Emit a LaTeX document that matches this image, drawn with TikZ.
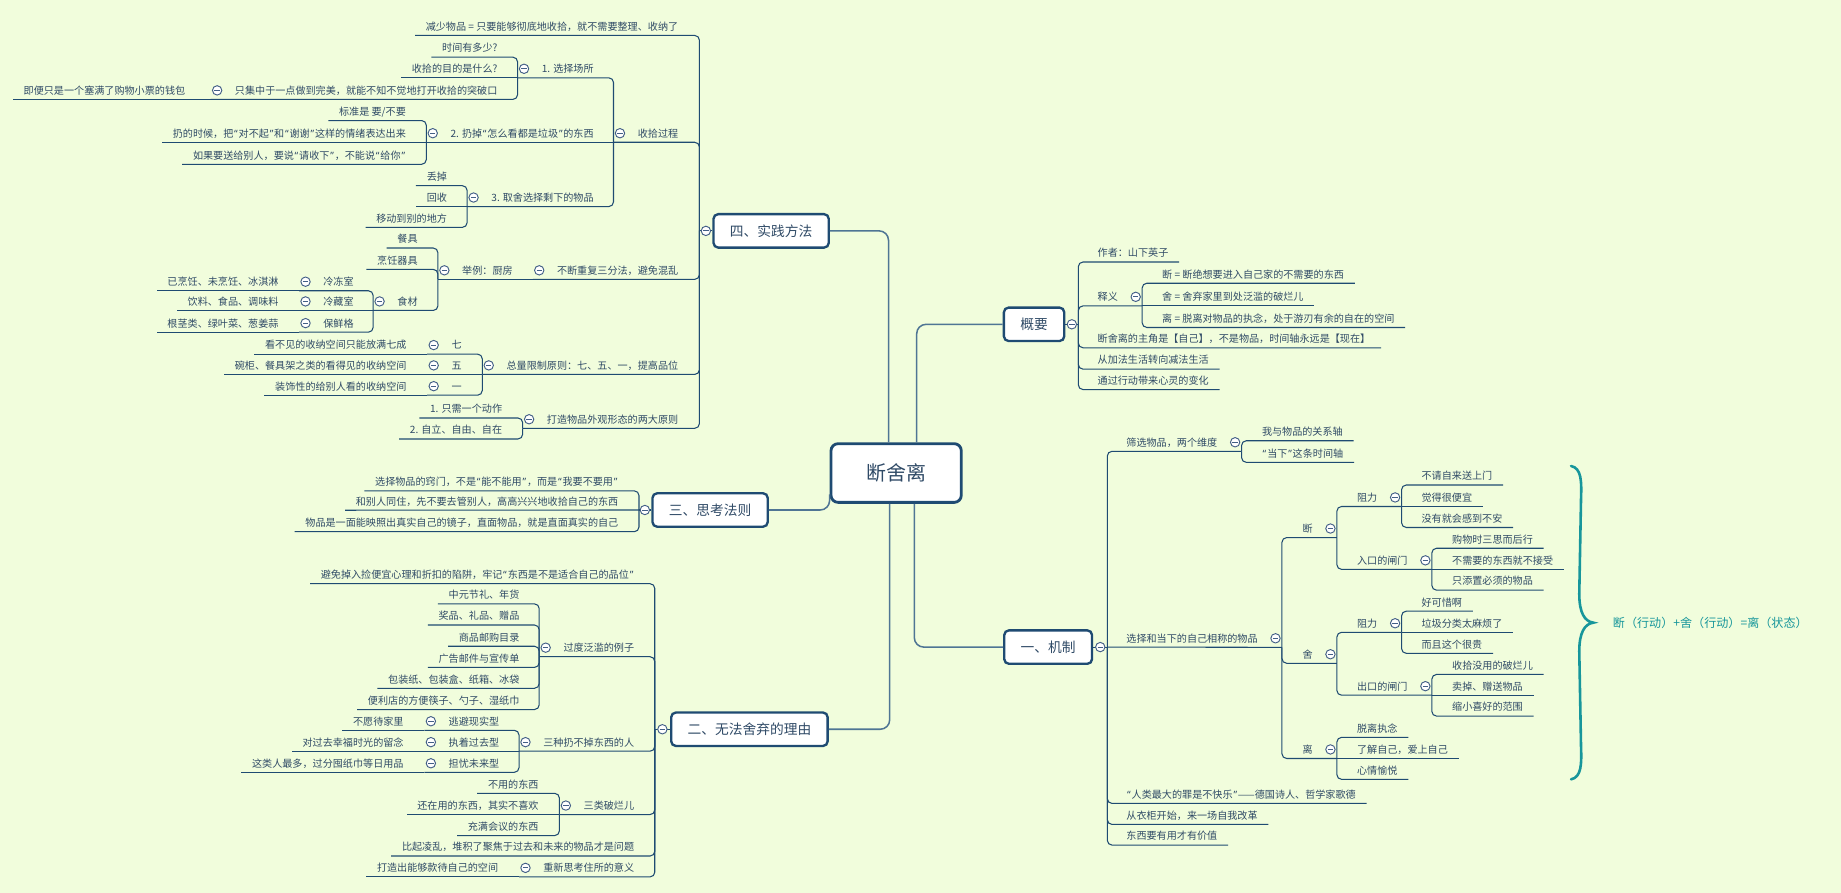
\documentclass[tikz,border=0pt]{standalone}
\usepackage{fontspec}
\setmainfont{Noto Sans CJK SC}
\newfontfamily\latf{Noto Sans}
\newcommand\oq{\kern0.6pt{\latf “}\kern0.8pt}
\newcommand\cq{\kern0.8pt{\latf ”}\kern0.6pt}
\definecolor{bgc}{HTML}{F1FDDC}
\definecolor{txtc}{HTML}{2F4A66}
\definecolor{linec}{HTML}{1F4B72}
\definecolor{rootc}{HTML}{4F7594}
\definecolor{foldc}{HTML}{435F86}
\definecolor{sumc}{HTML}{17969B}
\tikzset{
	topic/.style={font=\fontsize{8.6}{10}\selectfont, text=txtc, inner xsep=9pt, inner ysep=0pt, text height=10.8pt, text depth=4.2pt},
	lt/.style={topic, anchor=east},
	rt/.style={topic, anchor=west},
	branch/.style={draw=linec, line width=2pt, rounded corners=4pt, fill=white, text=txtc, font=\fontsize{11.7}{14}\selectfont, inner xsep=14pt, inner ysep=0pt, text height=9.5pt, text depth=0.6pt, minimum height=28.5pt},
	central/.style={branch, line width=2.4pt, rounded corners=6pt, font=\fontsize{17}{20}\selectfont, text height=13.5pt, text depth=0.6pt, minimum width=111pt, minimum height=50pt},
	link/.style={draw=linec, line width=0.9pt, rounded corners=4pt},
	rootlink/.style={draw=rootc, line width=1.3pt, rounded corners=8pt},
	fold/.style={circle, draw=foldc, fill=white, line width=0.8pt, inner sep=0pt, minimum size=8pt,
			path picture={\draw[foldc, line width=0.8pt] ([xshift=-2.3pt]path picture bounding box.center) -- ([xshift=2.3pt]path picture bounding box.center);}},
	summary/.style={font=\fontsize{10.3}{12}\selectfont, text=sumc, inner sep=0pt, text height=7.6pt, text depth=0.8pt, anchor=west}
}
\begin{document}
\begin{tikzpicture}[x=1pt, y=-1pt]
	\fill[bgc] (0,0) rectangle (1568.5,760.8);
	\useasboundingbox (0,0) rectangle (1568.5,760.8);

	% centre and main branches
	\node[central] (root) at (763.5,403) {断舍离};
	\node[branch] (b4) at (657,196.7) {四、实践方法};
	\node[branch] (b3) at (605,434.5) {三、思考法则};
	\node[branch] (b2) at (638.5,621.3) {二、无法舍弃的理由};
	\node[branch] (gy) at (881,276.3) {概要};
	\node[branch] (b1) at (893,551.3) {一、机制};

	\draw[rootlink] ([xshift=-6.5pt]root.north) |- (b4.east);
	\draw[rootlink] ([xshift=17.5pt]root.north) |- (gy.west);
	\draw[rootlink] ([xshift=-5.5pt]root.south) |- (b2.east);
	\draw[rootlink] ([xshift=15.5pt]root.south) |- (b1.west);
	\draw[rootlink] (b3.east) -| ([yshift=8pt]root.south west);

	% four
	\node[lt] (a1) at (587,22.5) {减少物品 = 只要能够彻底地收拾，就不需要整理、收纳了};
	\node[lt] (a2) at (587,113.5) {收拾过程};
	\node[lt] (a21) at (515,58.6) {1. 选择场所};
	\node[lt] (a211) at (433,41) {时间有多少?};
	\node[lt] (a212) at (433,58.6) {收拾的目的是什么?};
	\node[lt] (a213) at (433,77) {只集中于一点做到完美，就能不知不觉地打开收拾的突破口};
	\node[lt] (a2131) at (167,77) {即便只是一个塞满了购物小票的钱包};
	\node[lt] (a22) at (515,113.5) {2. 扔掉\oq 怎么看都是垃圾\cq 的东西};
	\node[lt] (a221) at (355,95) {标准是 要/不要};
	\node[lt] (a222) at (355,113.5) {扔的时候，把\oq 对不起\cq 和\oq 谢谢\cq 这样的情绪表达出来};
	\node[lt] (a223) at (355,132.3) {如果要送给别人，要说\oq 请收下\cq ，不能说\oq 给你\cq};
	\node[lt] (a23) at (515,168.3) {3. 取舍选择剩下的物品};
	\node[lt] (a231) at (390,150.5) {丢掉};
	\node[lt] (a232) at (390,168.3) {回收};
	\node[lt] (a233) at (390,186) {移动到别的地方};
	\node[lt] (a3) at (587,230.3) {不断重复三分法，避免混乱};
	\node[lt] (a31) at (446,230.3) {举例：厨房};
	\node[lt] (a311) at (365,203.6) {餐具};
	\node[lt] (a312) at (365,221.8) {烹饪器具};
	\node[lt] (a313) at (365,256.8) {食材};
	\node[lt] (a3131) at (310.5,240) {冷冻室};
	\node[lt] (a3132) at (310.5,256.8) {冷藏室};
	\node[lt] (a3133) at (310.5,275.3) {保鲜格};
	\node[lt] (a31311) at (246.5,240) {已烹饪、未烹饪、冰淇淋};
	\node[lt] (a31321) at (246.5,256.8) {饮料、食品、调味料};
	\node[lt] (a31331) at (246.5,275.3) {根茎类、绿叶菜、葱姜蒜};
	\node[lt] (a4) at (587,311.3) {总量限制原则：七、五、一，提高品位};
	\node[lt] (a41) at (402.5,294) {七};
	\node[lt] (a42) at (402.5,311.3) {五};
	\node[lt] (a43) at (402.5,329) {一};
	\node[lt] (a411) at (355.5,294) {看不见的收纳空间只能放满七成};
	\node[lt] (a421) at (355.5,311.3) {碗柜、餐具架之类的看得见的收纳空间};
	\node[lt] (a431) at (355.5,329) {装饰性的给别人看的收纳空间};
	\node[lt] (a5) at (587,357.2) {打造物品外观形态的两大原则};
	\node[lt] (a51) at (437,348.4) {1. 只需一个动作};
	\node[lt] (a52) at (437,366.3) {2. 自立、自由、自在};

	\coordinate (b4-j) at ([xshift=-11pt]b4.west);
	\foreach \n in {a2,a21,a213,a22,a23,a3,a31,a313,a3131,a3132,a3133,a4,a41,a42,a43,a5}
	\coordinate (\n-j) at ([xshift=-11.5pt]\n.south west);

	\draw[link] (b4.west) -- (b4-j);
	\draw[link] (b4-j) |- (a1.south west);
	\draw[link] (b4-j) |- (a2-j);
	\draw[link] (b4-j) |- (a3-j);
	\draw[link] (b4-j) |- (a4-j);
	\draw[link] (b4-j) |- (a5-j);
	\draw[link] (a2-j) |- (a21-j);
	\draw[link] (a2-j) -- (a22-j);
	\draw[link] (a2-j) |- (a23-j);
	\draw[link] (a21-j) |- (a211.south west);
	\draw[link] (a21-j) -- (a212.south west);
	\draw[link] (a21-j) |- (a213-j);
	\draw[link] (a213-j) -- (a2131.south west);
	\draw[link] (a22-j) |- (a221.south west);
	\draw[link] (a22-j) -- (a222.south west);
	\draw[link] (a22-j) |- (a223.south west);
	\draw[link] (a23-j) |- (a231.south west);
	\draw[link] (a23-j) -- (a232.south west);
	\draw[link] (a23-j) |- (a233.south west);
	\draw[link] (a3-j) -- (a31-j);
	\draw[link] (a31-j) |- (a311.south west);
	\draw[link] (a31-j) |- (a312.south west);
	\draw[link] (a31-j) |- (a313-j);
	\draw[link] (a313-j) |- (a3131-j);
	\draw[link] (a313-j) -- (a3132-j);
	\draw[link] (a313-j) |- (a3133-j);
	\draw[link] (a3131-j) -- (a31311.south west);
	\draw[link] (a3132-j) -- (a31321.south west);
	\draw[link] (a3133-j) -- (a31331.south west);
	\draw[link] (a4-j) |- (a41-j);
	\draw[link] (a4-j) -- (a42-j);
	\draw[link] (a4-j) |- (a43-j);
	\draw[link] (a41-j) -- (a411.south west);
	\draw[link] (a42-j) -- (a421.south west);
	\draw[link] (a43-j) -- (a431.south west);
	\draw[link] (a5-j) |- (a51.south west);
	\draw[link] (a5-j) |- (a52.south west);

	\node[fold] (b4-f) at ([xshift=-5.5pt]b4.west) {};
	\foreach \n in {a2,a21,a213,a22,a23,a3,a31,a313,a3131,a3132,a3133,a4,a41,a42,a43,a5}
	\node[fold] (\n-f) at ([xshift=-6pt]\n.west) {};

	% three
	\node[lt] (c1) at (536,410.5) {选择物品的窍门，不是\oq 能不能用\cq ，而是\oq 我要不要用\cq};
	\node[lt] (c2) at (536,427) {和别人同住，先不要去管别人，高高兴兴地收拾自己的东西};
	\node[lt] (c3) at (536,445.3) {物品是一面能映照出真实自己的镜子，直面物品，就是直面真实的自己};

	\coordinate (b3-j) at ([xshift=-10.5pt]b3.west);
	\draw[link] (b3.west) -- (b3-j);
	\draw[link] (b3-j) |- (c1.south west);
	\draw[link] (b3-j) -- (c2.south west);
	\draw[link] (b3-j) |- (c3.south west);
	\node[fold] (b3-f) at ([xshift=-5.5pt]b3.west) {};

	% two
	\node[lt] (d1) at (549.5,489.6) {避免掉入捡便宜心理和折扣的陷阱，牢记\oq 东西是不是适合自己的品位\cq};
	\node[lt] (d2) at (549.5,551.8) {过度泛滥的例子};
	\node[lt] (d21) at (451.7,506.8) {中元节礼、年货};
	\node[lt] (d22) at (451.7,524.8) {奖品、礼品、赠品};
	\node[lt] (d23) at (451.7,542.9) {商品邮购目录};
	\node[lt] (d24) at (451.7,560.9) {广告邮件与宣传单};
	\node[lt] (d25) at (451.7,578.7) {包装纸、包装盒、纸箱、冰袋};
	\node[lt] (d26) at (451.7,596.8) {便利店的方便筷子、勺子、湿纸巾};
	\node[lt] (d3) at (549.5,632.3) {三种扔不掉东西的人};
	\node[lt] (d31) at (434.5,614.5) {逃避现实型};
	\node[lt] (d32) at (434.5,632.3) {执着过去型};
	\node[lt] (d33) at (434.5,650.3) {担忧未来型};
	\node[lt] (d311) at (353,614.5) {不愿待家里};
	\node[lt] (d321) at (353,632.3) {对过去幸福时光的留念};
	\node[lt] (d331) at (353,650.3) {这类人最多，过分囤纸巾等日用品};
	\node[lt] (d4) at (549.5,686.3) {三类破烂儿};
	\node[lt] (d41) at (468,668.2) {不用的东西};
	\node[lt] (d42) at (468,686.3) {还在用的东西，其实不喜欢};
	\node[lt] (d43) at (468,704.2) {充满会议的东西};
	\node[lt] (d5) at (549.5,721.6) {比起凌乱，堆积了聚焦于过去和未来的物品才是问题};
	\node[lt] (d6) at (549.5,739.4) {重新思考住所的意义};
	\node[lt] (d61) at (433.6,739.4) {打造出能够款待自己的空间};

	\coordinate (b2-j) at ([xshift=-13pt]b2.west);
	\foreach \n in {d2,d3,d31,d32,d33,d4,d6}
	\coordinate (\n-j) at ([xshift=-11.5pt]\n.south west);

	\draw[link] (b2.west) -- (b2-j);
	\draw[link] (b2-j) |- (d1.south west);
	\draw[link] (b2-j) |- (d2-j);
	\draw[link] (b2-j) |- (d3-j);
	\draw[link] (b2-j) |- (d4-j);
	\draw[link] (b2-j) |- (d5.south west);
	\draw[link] (b2-j) |- (d6-j);
	\foreach \k in {1,...,6}
	\draw[link] (d2-j) |- (d2\k.south west);
	\draw[link] (d3-j) |- (d31-j);
	\draw[link] (d3-j) -- (d32-j);
	\draw[link] (d3-j) |- (d33-j);
	\draw[link] (d31-j) -- (d311.south west);
	\draw[link] (d32-j) -- (d321.south west);
	\draw[link] (d33-j) -- (d331.south west);
	\draw[link] (d4-j) |- (d41.south west);
	\draw[link] (d4-j) -- (d42.south west);
	\draw[link] (d4-j) |- (d43.south west);
	\draw[link] (d6-j) -- (d61.south west);

	\node[fold] (b2-f) at ([xshift=-6.5pt]b2.west) {};
	\foreach \n in {d2,d3,d31,d32,d33,d4,d6}
	\node[fold] (\n-f) at ([xshift=-6pt]\n.west) {};

	% overview
	\node[rt] (g1) at (926,215.5) {作者：山下英子};
	\node[rt] (g2) at (926,252.9) {释义};
	\node[rt] (g21) at (981,233.6) {断 = 断绝想要进入自己家的不需要的东西};
	\node[rt] (g22) at (981,252.9) {舍 = 舍弃家里到处泛滥的破烂儿};
	\node[rt] (g23) at (981,271.3) {离 = 脱离对物品的执念，处于游刃有余的自在的空间};
	\node[rt] (g3) at (926,288.6) {断舍离的主角是【自己】，不是物品，时间轴永远是【现在】};
	\node[rt] (g4) at (926,306.8) {从加法生活转向减法生活};
	\node[rt] (g5) at (926,324.2) {通过行动带来心灵的变化};

	\coordinate (gy-j) at ([xshift=11pt]gy.east);
	\coordinate (g2-j) at ([xshift=11.5pt]g2.south east);
	\draw[link] (gy.east) -- (gy-j);
	\draw[link] (gy-j) |- (g1.south east);
	\draw[link] (gy-j) |- (g2-j);
	\draw[link] (gy-j) |- (g3.south east);
	\draw[link] (gy-j) |- (g4.south east);
	\draw[link] (gy-j) |- (g5.south east);
	\draw[link] (g2-j) |- (g21.south east);
	\draw[link] (g2-j) -- (g22.south east);
	\draw[link] (g2-j) |- (g23.south east);
	\node[fold] (gy-f) at ([xshift=5.5pt]gy.east) {};
	\node[fold] (g2-f) at ([xshift=6pt]g2.east) {};

	% one
	\node[rt] (m1) at (950.5,376.8) {筛选物品，两个维度};
	\node[rt] (m11) at (1066,367.8) {我与物品的关系轴};
	\node[rt] (m12) at (1066,386.2) {\oq 当下\cq 这条时间轴};
	\node[rt] (m2) at (950.5,543.8) {选择和当下的自己相称的物品};
	\node[rt] (m21) at (1100.5,450.3) {断};
	\node[rt] (m211) at (1147,423.8) {阻力};
	\node[rt] (m2111) at (1202,405.5) {不请自来送上门};
	\node[rt] (m2112) at (1202,423.8) {觉得很便宜};
	\node[rt] (m2113) at (1202,441.7) {没有就会感到不安};
	\node[rt] (m212) at (1147,477.4) {入口的闸门};
	\node[rt] (m2121) at (1228,459.4) {购物时三思而后行};
	\node[rt] (m2122) at (1228,477.4) {不需要的东西就不接受};
	\node[rt] (m2123) at (1228,495.1) {只添置必须的物品};
	\node[rt] (m22) at (1100.5,557.4) {舍};
	\node[rt] (m221) at (1147,531) {阻力};
	\node[rt] (m2211) at (1202,513) {好可惜啊};
	\node[rt] (m2212) at (1202,531) {垃圾分类太麻烦了};
	\node[rt] (m2213) at (1202,548.9) {而且这个很贵};
	\node[rt] (m222) at (1147,584.6) {出口的闸门};
	\node[rt] (m2221) at (1228,566.9) {收拾没用的破烂儿};
	\node[rt] (m2222) at (1228,584.6) {卖掉、赠送物品};
	\node[rt] (m2223) at (1228,602.4) {缩小喜好的范围};
	\node[rt] (m23) at (1100.5,638.5) {离};
	\node[rt] (m231) at (1147,620.5) {脱离执念};
	\node[rt] (m232) at (1147,638.5) {了解自己，爱上自己};
	\node[rt] (m233) at (1147,656.3) {心情愉悦};
	\node[rt] (m3) at (950.5,676.8) {\oq 人类最大的罪是不快乐\cq ——德国诗人、哲学家歌德};
	\node[rt] (m4) at (950.5,694.7) {从衣柜开始，来一场自我改革};
	\node[rt] (m5) at (950.5,712.3) {东西要有用才有价值};

	\coordinate (b1-j) at ([xshift=12pt]b1.east);
	\foreach \n in {m1,m2,m21,m211,m212,m22,m221,m222,m23}
	\coordinate (\n-j) at ([xshift=11.5pt]\n.south east);

	\draw[link] (b1.east) -- (b1-j);
	\draw[link] (b1-j) |- (m1-j);
	\draw[link] (b1-j) -- (m2-j);
	\draw[link] (b1-j) |- (m3.south east);
	\draw[link] (b1-j) |- (m4.south east);
	\draw[link] (b1-j) |- (m5.south east);
	\draw[link] (m1-j) |- (m11.south east);
	\draw[link] (m1-j) |- (m12.south east);
	\draw[link] (m2-j) |- (m21-j);
	\draw[link] (m2-j) |- (m22-j);
	\draw[link] (m2-j) |- (m23-j);
	\draw[link] (m21-j) |- (m211-j);
	\draw[link] (m21-j) |- (m212-j);
	\draw[link] (m22-j) |- (m221-j);
	\draw[link] (m22-j) |- (m222-j);
	\foreach \p in {m211,m212,m221,m222}{
			\draw[link] (\p-j) |- (\p1.south east);
			\draw[link] (\p-j) -- (\p2.south east);
			\draw[link] (\p-j) |- (\p3.south east);
		}
	\draw[link] (m23-j) |- (m231.south east);
	\draw[link] (m23-j) -- (m232.south east);
	\draw[link] (m23-j) |- (m233.south east);

	\node[fold] (b1-f) at ([xshift=6pt]b1.east) {};
	\foreach \n in {m1,m2,m21,m211,m212,m22,m221,m222,m23}
	\node[fold] (\n-f) at ([xshift=6pt]\n.east) {};

	% summary brace
	\draw[sumc, line width=2.2pt, line cap=round]
	(1338.5,397) .. controls (1347.5,399) and (1347.5,410) .. (1347,425)
	-- (1345.5,506) .. controls (1345.5,522) and (1350,529.5) .. (1357.5,530.5)
	.. controls (1350,531.5) and (1345.5,539) .. (1345.5,555)
	-- (1347,636) .. controls (1347.5,651) and (1347.5,662) .. (1338.5,664);
	\node[summary] (sum) at (1374,531) {断（行动）+舍（行动）=离（状态）};

\end{tikzpicture}
\end{document}
